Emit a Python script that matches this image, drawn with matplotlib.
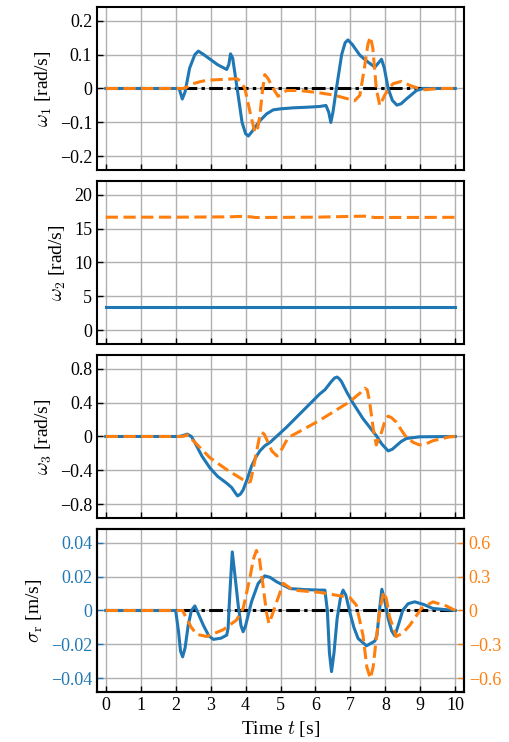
# angular rates and sway velocity over time, four stacked panels
import numpy as np
import matplotlib.pyplot as plt

plt.rcParams['font.family'] = ['Liberation Serif', 'DejaVu Serif']
plt.rcParams['mathtext.fontset'] = 'cm'
plt.rcParams['axes.unicode_minus'] = True

blue = '#1f77b4'
orange = '#ff7f0e'

# x axis
t_ticks = [0, 1, 2, 3, 4, 5, 6, 7, 8, 9, 10]
t_ref = [0, 10]
ref_zero = [0, 0]

# panel 1: omega_1
w1_blue_t = [0, 2.1, 2.19, 2.27, 2.4, 2.55, 2.65, 2.8, 3.0, 3.2, 3.46, 3.52, 3.57, 3.63,
             3.76, 3.9, 4.0, 4.08, 4.2, 4.41, 4.6, 4.79, 5.0, 5.36, 5.8, 6.12, 6.3, 6.38,
             6.44, 6.5, 6.6, 6.75, 6.85, 6.93, 7.05, 7.27, 7.5, 7.7, 7.8, 7.89, 7.97, 8.08,
             8.2, 8.33, 8.45, 8.6, 8.89, 9.08, 10]
w1_blue_v = [0, 0, -0.031, -0.01, 0.06, 0.1, 0.11, 0.1, 0.085, 0.07, 0.056, 0.07, 0.102, 0.09,
             0, -0.1, -0.133, -0.14, -0.125, -0.095, -0.075, -0.063, -0.06, -0.057, -0.055, -0.053, -0.05, -0.07,
             -0.1, -0.07, 0, 0.1, 0.135, 0.143, 0.13, 0.098, 0.078, 0.063, 0.075, 0.086, 0.06, 0,
             -0.035, -0.049, -0.045, -0.031, -0.006, 0, 0]
w1_orange_t = [0, 2.2, 2.3, 2.5, 2.7, 2.89, 3.2, 3.46, 3.75, 3.85, 3.98, 4.15, 4.27, 4.35,
               4.41, 4.48, 4.55, 4.65, 4.79, 4.93, 5.05, 5.17, 5.55, 6.12, 6.5, 6.8, 7.12, 7.27,
               7.4, 7.5, 7.57, 7.64, 7.74, 7.84, 7.98, 8.1, 8.22, 8.46, 8.7, 9.08, 9.55, 10]
w1_orange_v = [0, 0, 0.003, 0.014, 0.02, 0.024, 0.026, 0.027, 0.029, 0.022, 0, -0.08, -0.13, -0.115,
               -0.08, -0.01, 0.041, 0.028, 0, -0.023, -0.015, -0.006, -0.006, -0.013, -0.019, -0.027, -0.036, -0.02,
               0.06, 0.13, 0.152, 0.12, 0.0, -0.05, -0.02, 0.0, 0.014, 0.021, 0.009, -0.004, 0, 0]

# panel 2: omega_2
w2_blue_t = [0, 10]
w2_blue_v = [3.4, 3.4]
w2_orange_t = [0, 2, 3.5, 4.0, 4.3, 6, 7.0, 7.4, 7.7, 10]
w2_orange_v = [16.67, 16.67, 16.72, 16.8, 16.62, 16.67, 16.78, 16.82, 16.62, 16.65]

# panel 3: omega_3
w3_blue_t = [0, 2.1, 2.2, 2.33, 2.45, 2.55, 2.75, 2.98, 3.2, 3.46, 3.6, 3.7, 3.77, 3.85,
             3.93, 4.05, 4.17, 4.3, 4.41, 4.55, 4.7, 5.17, 5.55, 6.12, 6.27, 6.46, 6.55, 6.62,
             6.68, 6.74, 6.9, 7.08, 7.36, 7.55, 7.74, 7.9, 8.08, 8.2, 8.31, 8.45, 8.6, 8.98, 10]
w3_blue_v = [0, 0, 0.01, 0.028, 0.0, -0.072, -0.23, -0.37, -0.47, -0.55, -0.6, -0.66, -0.7, -0.68,
             -0.63, -0.5, -0.35, -0.24, -0.17, -0.11, -0.07, 0.108, 0.265, 0.5, 0.55, 0.65, 0.69, 0.7,
             0.68, 0.65, 0.52, 0.39, 0.21, 0.11, 0.01, -0.09, -0.17, -0.15, -0.11, -0.06, -0.024, -0.004, 0]
w3_orange_t = [0, 2.2, 2.33, 2.6, 2.98, 3.46, 3.93, 4.08, 4.14, 4.2, 4.31, 4.4, 4.46, 4.53,
               4.6, 4.75, 4.9, 5.05, 5.22, 5.55, 6.12, 6.98, 7.3, 7.41, 7.48, 7.55, 7.65, 7.74,
               7.89, 8.0, 8.08, 8.18, 8.31, 8.45, 8.6, 8.8, 8.98, 9.15, 9.36, 9.84, 10]
w3_orange_v = [0, 0, 0.02, -0.09, -0.25, -0.39, -0.51, -0.54, -0.53, -0.42, -0.19, 0.0, 0.048, 0.03,
               -0.03, -0.17, -0.23, -0.14, -0.012, 0.06, 0.19, 0.41, 0.52, 0.57, 0.55, 0.41, 0.1, -0.1,
               0.05, 0.2, 0.24, 0.22, 0.17, 0.08, -0.01, -0.07, -0.1, -0.09, -0.05, -0.004, 0]

# panel 4: sigma_r (left axis blue, right axis orange)
s_blue_t = [0, 2.0, 2.08, 2.14, 2.2, 2.27, 2.36, 2.45, 2.55, 2.65, 2.79, 2.95, 3.08, 3.3,
            3.46, 3.5, 3.55, 3.62, 3.7, 3.79, 3.87, 3.93, 4.0, 4.17, 4.36, 4.55, 4.7, 4.89,
            5.27, 5.7, 6.12, 6.27, 6.34, 6.4, 6.46, 6.53, 6.62, 6.72, 6.79, 6.87, 6.98, 7.1,
            7.22, 7.46, 7.7, 7.76, 7.83, 7.9, 7.98, 8.08, 8.18, 8.27, 8.38, 8.5, 8.65, 8.84,
            9.1, 9.36, 9.98, 10]
s_blue_v = [0, 0, -0.012, -0.024, -0.0273, -0.022, -0.0086, 0.0, 0.0027, -0.002, -0.0086, -0.015, -0.017, -0.0163,
            -0.0145, -0.0106, 0.01, 0.0345, 0.02, 0.003, -0.009, -0.0125, -0.009, 0.0051, 0.0159, 0.0204, 0.0195, 0.0169,
            0.0129, 0.0123, 0.012, 0.012, 0.0, -0.025, -0.036, -0.025, -0.0047, 0.008, 0.012, 0.009, -0.0008, -0.01,
            -0.0165, -0.0208, -0.018, -0.0145, 0.0, 0.0125, 0.006, -0.0047, -0.012, -0.0149, -0.008, 0.0002, 0.004, 0.0051,
            0.0035, 0.0012, 0, 0]
s_orange_t = [0, 2.2, 2.31, 2.45, 2.6, 2.89, 3.36, 3.74, 3.93, 4.12, 4.22, 4.31, 4.4, 4.5,
              4.6, 4.67, 4.75, 4.89, 5.08, 5.36, 6.12, 6.5, 6.98, 7.17, 7.36, 7.47, 7.57, 7.65,
              7.74, 7.85, 7.95, 8.03, 8.12, 8.31, 8.5, 8.7, 9.03, 9.36, 9.74, 10]
s_orange_v = [0, 0, -0.071, -0.15, -0.21, -0.23, -0.17, -0.085, 0.018, 0.28, 0.45, 0.53, 0.45, 0.22,
              -0.02, -0.115, -0.05, 0.076, 0.24, 0.18, 0.16, 0.14, 0.115, 0.047, -0.22, -0.5, -0.6, -0.5,
              -0.25, 0.02, 0.165, 0.1, -0.056, -0.23, -0.2, -0.13, 0.018, 0.076, 0.041, 0.0]

w1_ticks = [-0.2, -0.1, 0, 0.1, 0.2]
w1_labels = ['\u22120.2', '\u22120.1', '0', '0.1', '0.2']
w2_ticks = [0, 5, 10, 15, 20]
w2_labels = ['0', '5', '10', '15', '20']
w3_ticks = [-0.8, -0.4, 0, 0.4, 0.8]
w3_labels = ['\u22120.8', '\u22120.4', '0', '0.4', '0.8']
s_ticks = [-0.04, -0.02, 0, 0.02, 0.04]
s_labels = ['\u22120.04', '\u22120.02', '0', '0.02', '0.04']
s2_ticks = [-0.6, -0.3, 0, 0.3, 0.6]
s2_labels = ['\u22120.6', '\u22120.3', '0', '0.3', '0.6']

fig, axes = plt.subplots(4, 1, figsize=(5.09, 7.42), dpi=100, sharex=True)
fig.subplots_adjust(left=0.1906, right=0.9116, top=0.9906, bottom=0.0674, hspace=0.0675)

lw = 2.2
dash = (4, 1.8)
dashdot = (4.5, 1.4, 1.1, 1.4)
tick_fs = 13
label_fs = 14

ax = axes[0]
ax.plot(t_ref, ref_zero, color='black', lw=lw, dashes=dashdot, zorder=2)
ax.plot(w1_blue_t, w1_blue_v, color=blue, lw=lw, zorder=3)
ax.plot(w1_orange_t, w1_orange_v, color=orange, lw=lw, dashes=dash, zorder=4)
ax.set_ylim(-0.24, 0.24)
ax.set_yticks(w1_ticks)
ax.set_yticklabels(w1_labels)
ax.set_ylabel(r'$\omega_1$ [rad/s]')

ax = axes[1]
ax.plot(w2_blue_t, w2_blue_v, color=blue, lw=lw, zorder=3)
ax.plot(w2_orange_t, w2_orange_v, color=orange, lw=lw, dashes=dash, zorder=4)
ax.set_ylim(-2, 22)
ax.set_yticks(w2_ticks)
ax.set_yticklabels(w2_labels)
ax.set_ylabel(r'$\omega_2$ [rad/s]')

ax = axes[2]
ax.plot(w3_blue_t, w3_blue_v, color=blue, lw=lw, zorder=3)
ax.plot(w3_orange_t, w3_orange_v, color=orange, lw=lw, dashes=dash, zorder=4)
ax.set_ylim(-0.96, 0.96)
ax.set_yticks(w3_ticks)
ax.set_yticklabels(w3_labels)
ax.set_ylabel(r'$\omega_3$ [rad/s]')

ax = axes[3]
ax.plot(t_ref, ref_zero, color='black', lw=lw, dashes=dashdot, zorder=2)
ax.plot(s_blue_t, s_blue_v, color=blue, lw=lw, zorder=3)
ax.set_ylim(-0.048, 0.048)
ax.set_yticks(s_ticks)
ax.set_yticklabels(s_labels)
ax.set_ylabel(r'$\sigma_\mathrm{r}$ [m/s]', color='black')
ax.set_xlabel(r'Time $t$ [s]')
ax2 = ax.twinx()
ax2.plot(s_orange_t, s_orange_v, color=orange, lw=lw, dashes=dash, zorder=4)
ax2.set_ylim(-0.72, 0.72)
ax2.set_yticks(s2_ticks)
ax2.set_yticklabels(s2_labels)
ax2.tick_params(axis='y', direction='in', colors=orange, labelsize=tick_fs, length=4, width=1)
for sp in ax2.spines.values():
    sp.set_linewidth(1.5)

for ax in axes:
    ax.set_xlim(-0.25, 10.25)
    ax.set_xticks(t_ticks)
    ax.grid(True, color='#b0b0b0', lw=1)
    ax.set_axisbelow(True)
    ax.tick_params(direction='in', labelsize=tick_fs, length=4, width=1)
    ax.yaxis.label.set_size(label_fs)
    for sp in ax.spines.values():
        sp.set_linewidth(1.5)
axes[3].tick_params(axis='y', colors=blue)
axes[3].xaxis.label.set_size(label_fs)

plt.savefig('out.png', dpi=100)
